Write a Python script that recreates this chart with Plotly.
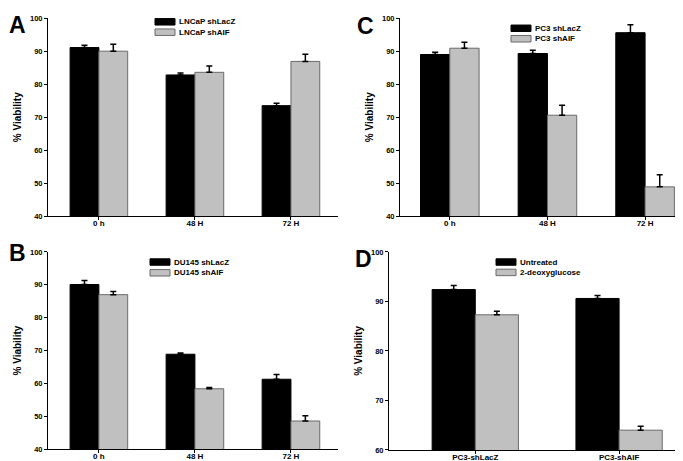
import plotly.graph_objects as go

W, H = 683, 461

# ---------------- data ----------------
time_cats = ["0 h", "48 H", "72 H"]
d_cats = ["PC3-shLacZ", "PC3-shAIF"]

a_names = ["LNCaP shLacZ", "LNCaP shAIF"]
a_black = [91.1, 82.8, 73.5]
a_black_err = [0.7, 0.6, 0.7]
a_gray = [90.0, 83.6, 86.9]
a_gray_err = [2.1, 1.9, 2.2]

b_names = ["DU145 shLacZ", "DU145 shAIF"]
b_black = [90.1, 68.9, 61.3]
b_black_err = [1.2, 0.4, 1.4]
b_gray = [87.0, 58.4, 48.6]
b_gray_err = [1.0, 0.4, 1.6]

c_names = ["PC3 shLacZ", "PC3 shAIF"]
c_black = [89.0, 89.3, 95.6]
c_black_err = [0.7, 1.0, 2.4]
c_gray = [90.9, 70.6, 48.9]
c_gray_err = [1.8, 3.0, 3.7]

d_names = ["Untreated", "2-deoxyglucose"]
d_black = [92.4, 90.6]
d_black_err = [0.8, 0.6]
d_gray = [87.3, 64.0]
d_gray_err = [0.7, 0.8]

y_ticks_abc = [40, 50, 60, 70, 80, 90, 100]
y_ticks_d = [60, 70, 80, 90, 100]
panel_letters = ["A", "B", "C", "D"]
y_title = "% Viability"

# ---------------- styles ----------------
FONT = "Liberation Sans, Arial, sans-serif"
BLACK = "#000000"
GRAY = "#c0c0c0"
GRAY_LINE = "#6a6a6a"


def px_x(p):
    return p / W


def px_y(p):
    return 1 - p / H


fig = go.Figure()


def add_pair(cats, black, black_err, gray, gray_err, names, xa, ya):
    fig.add_trace(go.Bar(
        x=cats, y=black, name=names[0], xaxis=xa, yaxis=ya,
        marker=dict(color=BLACK, line=dict(color=BLACK, width=1)),
        error_y=dict(type="data", array=black_err, arrayminus=[0] * len(black),
                     symmetric=False, color=BLACK, thickness=1.5, width=3),
        offsetgroup="k", showlegend=False,
    ))
    fig.add_trace(go.Bar(
        x=cats, y=gray, name=names[1], xaxis=xa, yaxis=ya,
        marker=dict(color=GRAY, line=dict(color=GRAY_LINE, width=1)),
        error_y=dict(type="data", array=gray_err, arrayminus=[0] * len(gray),
                     symmetric=False, color=BLACK, thickness=1.5, width=3),
        offsetgroup="g", showlegend=False,
    ))


add_pair(time_cats, a_black, a_black_err, a_gray, a_gray_err, a_names, "x", "y")
add_pair(time_cats, b_black, b_black_err, b_gray, b_gray_err, b_names, "x2", "y2")
add_pair(time_cats, c_black, c_black_err, c_gray, c_gray_err, c_names, "x3", "y3")
add_pair(d_cats, d_black, d_black_err, d_gray, d_gray_err, d_names, "x4", "y4")

xtickfont = dict(family=FONT, size=8, color="black", weight="bold")
ytickfont = dict(family=FONT, size=7.5, color="black", weight="bold")
titlefont = dict(family=FONT, size=10, color="black", weight="bold")


def xax(dom, anchor, rng):
    return dict(domain=dom, anchor=anchor, type="category", range=rng,
                showline=True, linecolor="black", linewidth=1,
                ticks="outside", ticklen=3, tickcolor="black", tickwidth=1,
                ticklabelstandoff=-4,
                tickfont=xtickfont, showgrid=False, zeroline=False, fixedrange=True)


def yax(dom, anchor, rng, tv):
    return dict(domain=dom, anchor=anchor, range=rng, tickvals=tv,
                showline=True, linecolor="black", linewidth=1,
                ticks="outside", ticklen=3, tickcolor="black", tickwidth=1,
                tickfont=ytickfont, showgrid=False, zeroline=False,
                title=dict(text=y_title, font=titlefont, standoff=6))


top_dom = [px_y(208.3), px_y(6.3)]
bot_dom = [px_y(446.0), px_y(244.7)]
bot_dom_d = [px_y(446.7), px_y(244.7)]

fig.update_layout(
    width=W, height=H,
    margin=dict(l=0, r=0, t=0, b=0),
    paper_bgcolor="white", plot_bgcolor="white",
    barmode="group", bargap=0.4, bargroupgap=0,
    showlegend=False,
    xaxis=xax([px_x(40), px_x(330)], "y", [-0.53, 2.49]),
    yaxis=yax(top_dom, "x", [40, 100], y_ticks_abc),
    xaxis2=xax([px_x(40), px_x(330)], "y2", [-0.53, 2.49]),
    yaxis2=yax(bot_dom, "x2", [40, 100], y_ticks_abc),
    xaxis3=xax([px_x(392), px_x(682)], "y3", [-0.51, 2.46]),
    yaxis3=yax(top_dom, "x3", [40, 100], y_ticks_abc),
    xaxis4=xax([px_x(381), px_x(683)], "y4", [-0.6, 1.5]),
    yaxis4=yax(bot_dom_d, "x4", [60, 100], y_ticks_d),
)

shapes = []
annotations = []

# legends (drawn manually to match wide swatches)
legend_specs = [
    (a_names, 147, 167, 6.7, 17.3),
    (b_names, 142, 162, 251.7, 262.7),
    (c_names, 503, 523, 13.3, 24.0),
    (d_names, 488, 508, 251.7, 262.3),
]
for names, x0, x1, y_top1, y_top2 in legend_specs:
    for i, (nm, yt) in enumerate(zip(names, [y_top1, y_top2])):
        fill = BLACK if i == 0 else GRAY
        lc = BLACK if i == 0 else GRAY_LINE
        shapes.append(dict(type="rect", xref="paper", yref="paper",
                           x0=px_x(x0), x1=px_x(x1), y0=px_y(yt + 6.6), y1=px_y(yt),
                           fillcolor=fill, line=dict(color=lc, width=1)))
        annotations.append(dict(text=nm, xref="paper", yref="paper",
                                x=px_x(x1 + 2), y=px_y(yt + 3.3),
                                xanchor="left", yanchor="middle", showarrow=False,
                                font=dict(family=FONT, size=8, color="black", weight="bold")))

# panel letters
letter_pos = [(0, 13), (0, 245.5), (348, 14.5), (346, 252)]
for letter, (lx, ly) in zip(panel_letters, letter_pos):
    annotations.append(dict(text=letter, xref="paper", yref="paper",
                            x=px_x(lx), y=px_y(ly), xanchor="left", yanchor="middle",
                            showarrow=False, borderpad=0,
                            font=dict(family=FONT, size=23, color="black", weight="bold")))

fig.update_layout(shapes=shapes, annotations=annotations)

fig.write_html("out.html")
